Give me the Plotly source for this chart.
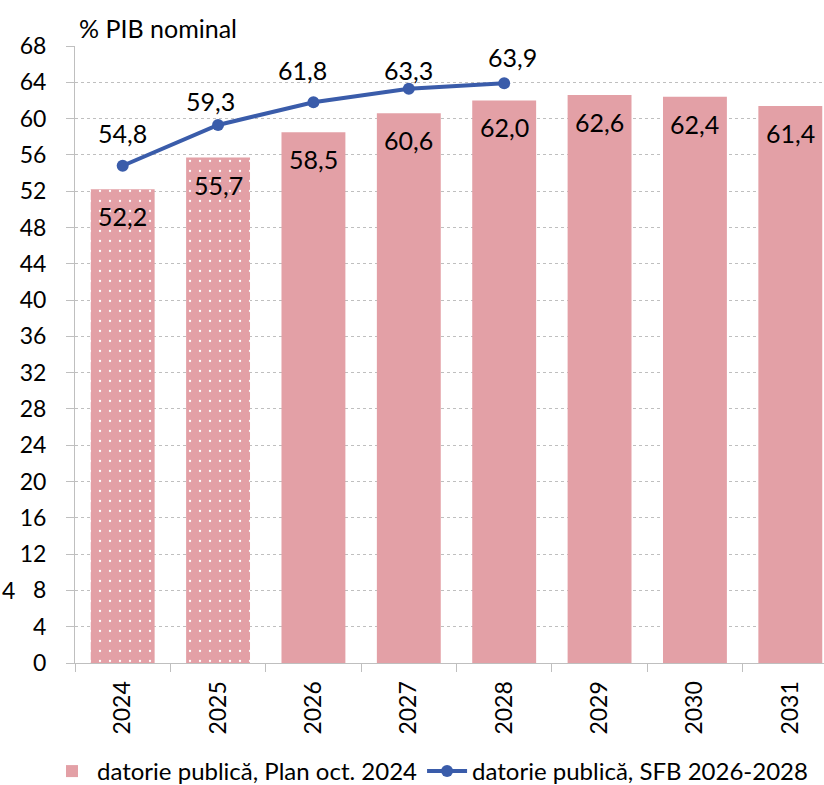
import plotly.graph_objects as go

years = ["2024", "2025", "2026", "2027", "2028", "2029", "2030", "2031"]
plan_values = [52.2, 55.7, 58.5, 60.6, 62.0, 62.6, 62.4, 61.4]
plan_dotted = [True, True, False, False, False, False, False, False]
sfb_years = ["2024", "2025", "2026", "2027", "2028"]
sfb_values = [54.8, 59.3, 61.8, 63.3, 63.9]
y_ticks = list(range(0, 69, 4))

PINK = "#E3A0A6"
BLUE = "#3A5CAA"
FONT = "Lato"

def fmt(v):
    return f"{v:.1f}".replace(".", ",")

fig = go.Figure()

# dotted bars (projection years, no legend entry)
fig.add_trace(go.Bar(
    x=[y for y, d in zip(years, plan_dotted) if d],
    y=[v for v, d in zip(plan_values, plan_dotted) if d],
    marker=dict(color=PINK, line=dict(width=0),
                pattern=dict(shape=".", fgcolor="white", bgcolor=PINK,
                             size=10, solidity=0.04, fillmode="replace")),
    showlegend=False, hoverinfo="skip",
))
# solid bars
fig.add_trace(go.Bar(
    x=[y for y, d in zip(years, plan_dotted) if not d],
    y=[v for v, d in zip(plan_values, plan_dotted) if not d],
    marker=dict(color=PINK, line=dict(width=0)),
    name="datorie publică, Plan oct. 2024",
))
fig.add_trace(go.Scatter(
    x=sfb_years, y=sfb_values, mode="lines+markers",
    line=dict(color=BLUE, width=4),
    marker=dict(color=BLUE, size=12),
    name="datorie publică, SFB 2026-2028",
))

# bar labels (inside end)
for yr, v in zip(years, plan_values):
    fig.add_annotation(x=years.index(yr), y=v, text=fmt(v), showarrow=False,
                       yanchor="middle", yshift=-27,
                       font=dict(family=FONT, size=25, color="black"))

# line labels (custom offsets as in the original)
lbl_dx = [0, -8, -11, 0, 8]
lbl_dy = [33, 24, 32, 19, 26]
for yr, v, dx, dy in zip(sfb_years, sfb_values, lbl_dx, lbl_dy):
    fig.add_annotation(x=years.index(yr), y=v, text=fmt(v), showarrow=False,
                       yanchor="middle", yshift=dy, xshift=dx,
                       font=dict(family=FONT, size=25, color="black"))

# title
fig.add_annotation(xref="paper", yref="paper", x=0, y=1, xanchor="left",
                   yanchor="middle", xshift=2, yshift=18,
                   text="% PIB nominal", showarrow=False,
                   font=dict(family=FONT, size=25, color="black"))
# stray label at left
fig.add_annotation(xref="paper", yref="y", x=0, y=8, xanchor="center",
                   xshift=-67, text="4", showarrow=False,
                   font=dict(family=FONT, size=23, color="black"))

# the original chart is cropped on the right: draw a slightly
# larger figure and let the 824x785 window clip it
fig.update_layout(
    width=840, height=800,
    margin=dict(l=75, r=2, t=46, b=137),
    paper_bgcolor="white", plot_bgcolor="white",
    barmode="overlay", bargap=0.33,
    font=dict(family=FONT, size=23, color="black"),
    showlegend=True,
    legend=dict(orientation="h", x=-0.0367, xanchor="left",
                y=-0.2123, yanchor="bottom",
                font=dict(family=FONT, size=24),
                itemwidth=40, tracegroupgap=0, bgcolor="rgba(0,0,0,0)"),
    xaxis=dict(type="category", categoryorder="array", categoryarray=years,
               range=[-0.5, 7.5], tickangle=-90, tickson="boundaries",
               ticks="outside", ticklen=8, tickcolor="#BFBFBF",
               showline=True, linecolor="#BFBFBF", linewidth=1,
               showgrid=False, automargin=False, ticklabelstandoff=8,
               tickfont=dict(family=FONT, size=23)),
    yaxis=dict(range=[0, 68], tickvals=y_ticks, ticks="outside", ticklen=8,
               tickcolor="#BFBFBF", showline=True, linecolor="#BFBFBF",
               linewidth=1, showgrid=True, gridcolor="#BFBFBF",
               griddash="dot", gridwidth=1, zeroline=False,
               ticklabelstandoff=15, automargin=False,
               tickfont=dict(family=FONT, size=23)),
)

fig.write_html("out.html",
               config={"displayModeBar": False},
               post_script="document.body.style.margin='0';"
                           "document.body.style.overflow='hidden';")
